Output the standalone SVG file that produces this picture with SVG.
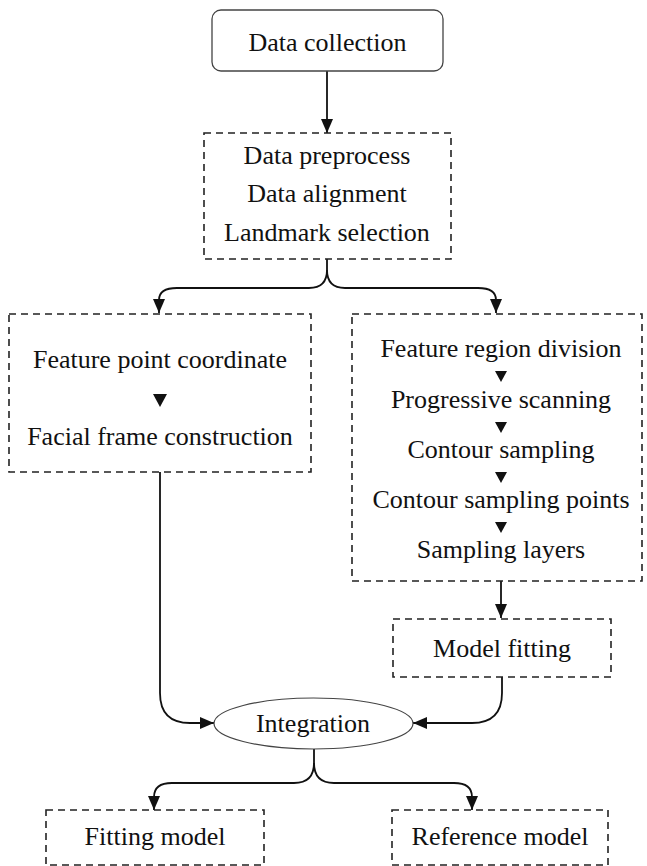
<svg xmlns="http://www.w3.org/2000/svg" width="647" height="866" viewBox="0 0 647 866">
<defs>
<style>
text{font-family:"Liberation Serif","Times New Roman",serif;font-size:26px;fill:#111;text-anchor:middle}
.dash{fill:none;stroke:#222;stroke-width:1.6;stroke-dasharray:7 5}
.solid{fill:#fff;stroke:#444;stroke-width:1.3}
.conn{fill:none;stroke:#111;stroke-width:1.8}
.tri{fill:#111}
</style>
<marker id="arr" markerUnits="userSpaceOnUse" markerWidth="14" markerHeight="12" refX="14" refY="6" orient="auto">
<path d="M0,0 L14,6 L0,12 z" fill="#111"/>
</marker>
</defs>
<rect width="647" height="866" fill="#fff"/>
<g id="connectors">
<path class="conn" d="M327,71 L327,133" marker-end="url(#arr)"/>
<path class="conn" d="M327,259 L327,270 Q327,288 309,288 L177,288 Q159,288 159,300 L159,313" marker-end="url(#arr)"/>
<path class="conn" d="M327,270 Q327,288 345,288 L478,288 Q496,288 496,300 L496,313" marker-end="url(#arr)"/>
<path class="conn" d="M160,472 L160,693 Q160,723 190,723 L214,723" marker-end="url(#arr)"/>
<path class="conn" d="M501,581 L501,618" marker-end="url(#arr)"/>
<path class="conn" d="M502,677 L502,693 Q502,723 472,723 L413,723" marker-end="url(#arr)"/>
<path class="conn" d="M314,749 L314,763 Q314,783 294,783 L172,783 Q154,783 154,797 L154,810" marker-end="url(#arr)"/>
<path class="conn" d="M314,763 Q314,783 334,783 L454,783 Q472,783 472,797 L472,810" marker-end="url(#arr)"/>
</g>
<g id="data-collection">
<rect class="solid" x="212" y="10" width="231" height="61" rx="9"/>
<text x="327.5" y="51">Data collection</text>
</g>
<g id="preprocess">
<rect class="dash" x="204" y="133" width="247" height="126"/>
<text x="327" y="164">Data preprocess</text>
<text x="327" y="202">Data alignment</text>
<text x="327" y="241">Landmark selection</text>
</g>
<g id="feature-point">
<rect class="dash" x="9" y="314" width="302" height="158"/>
<text x="160" y="368">Feature point coordinate</text>
<polygon class="tri" points="153,394 167,394 160,407"/>
<text x="160" y="445">Facial frame construction</text>
</g>
<g id="feature-region">
<rect class="dash" x="352" y="314" width="290" height="267"/>
<text x="501" y="357">Feature region division</text>
<polygon class="tri" points="495,371 507,371 501,382"/>
<text x="501" y="408">Progressive scanning</text>
<polygon class="tri" points="495,422 507,422 501,433"/>
<text x="501" y="458">Contour sampling</text>
<polygon class="tri" points="495,472 507,472 501,483"/>
<text x="501" y="508">Contour sampling points</text>
<polygon class="tri" points="495,522 507,522 501,533"/>
<text x="501" y="558">Sampling layers</text>
</g>
<g id="model-fitting">
<rect class="dash" x="393" y="619" width="218" height="58"/>
<text x="502" y="657">Model fitting</text>
</g>
<g id="integration">
<ellipse cx="313.5" cy="723.5" rx="99.5" ry="25.5" fill="#fff" stroke="#444" stroke-width="1.2"/>
<text x="313" y="732">Integration</text>
</g>
<g id="fitting-model">
<rect class="dash" x="46" y="810" width="218" height="55"/>
<text x="155" y="845">Fitting model</text>
</g>
<g id="reference-model">
<rect class="dash" x="392" y="810" width="216" height="55"/>
<text x="500" y="845">Reference model</text>
</g>
</svg>
